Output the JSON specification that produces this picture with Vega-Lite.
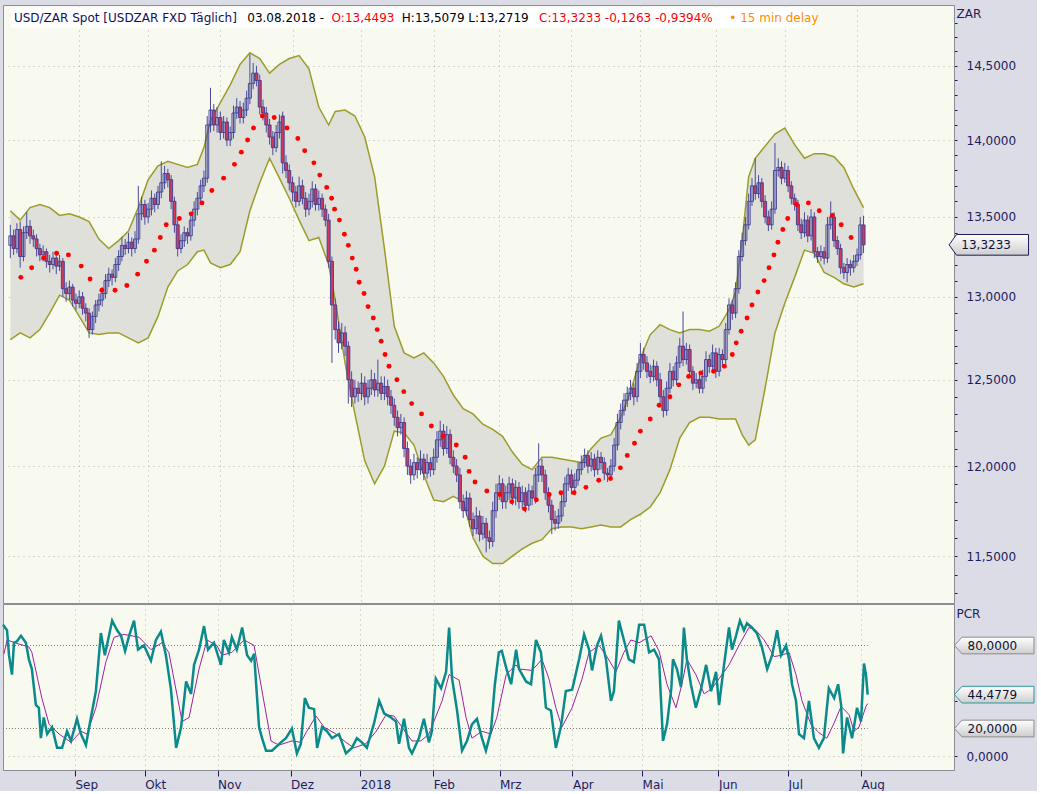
{
  "$schema": "https://vega.github.io/schema/vega-lite/v6.json",
  "background": "#dcdce6",
  "padding": {"left": -3, "top": 4, "right": 0, "bottom": 0},
  "spacing": -2,
  "config": {
    "view": {"fill": "#f8faf0", "stroke": "#8c8c96", "strokeWidth": 1},
    "font": "DejaVu Sans",
    "axis": {
      "labelFont": "DejaVu Sans", "labelFontSize": 12, "labelColor": "#1c1c5c",
      "tickColor": "#1c1c5c", "domainColor": "#8c8c96",
      "gridColor": "#b4b4b4", "gridDash": [1, 4],
      "titleFont": "DejaVu Sans", "titleFontSize": 12, "titleFontWeight": "normal", "titleColor": "#1c1c5c"
    }
  },
  "datasets": {
    "ohlc": [
      {"t":2,"o":13.32,"h":13.45,"l":13.24,"c":13.38},{"t":3,"o":13.38,"h":13.42,"l":13.26,"c":13.30},{"t":4,"o":13.30,"h":13.46,"l":13.27,"c":13.42},{"t":5,"o":13.42,"h":13.47,"l":13.18,"c":13.25},
      {"t":6,"o":13.25,"h":13.44,"l":13.22,"c":13.40},{"t":7,"o":13.40,"h":13.53,"l":13.36,"c":13.44},{"t":8,"o":13.44,"h":13.48,"l":13.33,"c":13.38},{"t":9,"o":13.38,"h":13.42,"l":13.31,"c":13.36},
      {"t":10,"o":13.36,"h":13.39,"l":13.25,"c":13.30},{"t":11,"o":13.30,"h":13.33,"l":13.22,"c":13.26},{"t":12,"o":13.26,"h":13.32,"l":13.22,"c":13.28},{"t":13,"o":13.28,"h":13.30,"l":13.18,"c":13.22},
      {"t":14,"o":13.22,"h":13.26,"l":13.15,"c":13.20},{"t":15,"o":13.20,"h":13.28,"l":13.17,"c":13.24},{"t":16,"o":13.24,"h":13.27,"l":13.14,"c":13.19},{"t":17,"o":13.19,"h":13.26,"l":13.16,"c":13.22},
      {"t":18,"o":13.22,"h":13.24,"l":13.00,"c":13.05},{"t":19,"o":13.05,"h":13.09,"l":12.97,"c":13.02},{"t":20,"o":13.02,"h":13.10,"l":12.98,"c":13.06},{"t":21,"o":13.06,"h":13.08,"l":12.94,"c":12.98},
      {"t":22,"o":12.98,"h":13.02,"l":12.92,"c":12.96},{"t":23,"o":12.96,"h":13.04,"l":12.93,"c":13.00},{"t":24,"o":13.00,"h":13.03,"l":12.89,"c":12.93},{"t":25,"o":12.93,"h":12.96,"l":12.85,"c":12.90},
      {"t":26,"o":12.90,"h":12.93,"l":12.75,"c":12.80},{"t":27,"o":12.80,"h":12.91,"l":12.77,"c":12.88},{"t":28,"o":12.88,"h":12.98,"l":12.84,"c":12.95},{"t":29,"o":12.95,"h":13.02,"l":12.91,"c":12.98},
      {"t":30,"o":12.98,"h":13.06,"l":12.94,"c":13.02},{"t":31,"o":13.02,"h":13.14,"l":12.99,"c":13.10},{"t":32,"o":13.10,"h":13.18,"l":13.06,"c":13.14},{"t":33,"o":13.14,"h":13.17,"l":13.07,"c":13.12},
      {"t":34,"o":13.12,"h":13.24,"l":13.09,"c":13.20},{"t":35,"o":13.20,"h":13.29,"l":13.16,"c":13.25},{"t":36,"o":13.25,"h":13.37,"l":13.22,"c":13.32},{"t":37,"o":13.32,"h":13.36,"l":13.26,"c":13.30},
      {"t":38,"o":13.30,"h":13.40,"l":13.27,"c":13.34},{"t":39,"o":13.34,"h":13.37,"l":13.25,"c":13.30},{"t":40,"o":13.30,"h":13.41,"l":13.27,"c":13.36},{"t":41,"o":13.36,"h":13.70,"l":13.33,"c":13.52},
      {"t":42,"o":13.52,"h":13.63,"l":13.48,"c":13.58},{"t":43,"o":13.58,"h":13.61,"l":13.45,"c":13.50},{"t":44,"o":13.50,"h":13.59,"l":13.46,"c":13.55},{"t":45,"o":13.55,"h":13.67,"l":13.51,"c":13.62},
      {"t":46,"o":13.62,"h":13.65,"l":13.53,"c":13.58},{"t":47,"o":13.58,"h":13.70,"l":13.55,"c":13.66},{"t":48,"o":13.66,"h":13.86,"l":13.62,"c":13.72},{"t":49,"o":13.72,"h":13.83,"l":13.68,"c":13.78},
      {"t":50,"o":13.78,"h":13.81,"l":13.69,"c":13.74},{"t":51,"o":13.74,"h":13.77,"l":13.55,"c":13.60},{"t":52,"o":13.60,"h":13.63,"l":13.40,"c":13.45},{"t":53,"o":13.45,"h":13.48,"l":13.25,"c":13.30},
      {"t":54,"o":13.30,"h":13.39,"l":13.27,"c":13.35},{"t":55,"o":13.35,"h":13.44,"l":13.31,"c":13.40},{"t":56,"o":13.40,"h":13.43,"l":13.33,"c":13.38},{"t":57,"o":13.38,"h":13.52,"l":13.35,"c":13.48},
      {"t":58,"o":13.48,"h":13.60,"l":13.44,"c":13.55},{"t":59,"o":13.55,"h":13.66,"l":13.51,"c":13.62},{"t":60,"o":13.62,"h":13.74,"l":13.58,"c":13.70},{"t":61,"o":13.70,"h":13.80,"l":13.66,"c":13.75},
      {"t":62,"o":13.75,"h":14.16,"l":13.72,"c":14.10},{"t":63,"o":14.10,"h":14.35,"l":14.05,"c":14.20},{"t":64,"o":14.20,"h":14.24,"l":14.06,"c":14.10},{"t":65,"o":14.10,"h":14.22,"l":14.05,"c":14.15},
      {"t":66,"o":14.15,"h":14.19,"l":14.00,"c":14.05},{"t":67,"o":14.05,"h":14.16,"l":14.01,"c":14.12},{"t":68,"o":14.12,"h":14.15,"l":13.96,"c":14.00},{"t":69,"o":14.00,"h":14.09,"l":13.96,"c":14.05},
      {"t":70,"o":14.05,"h":14.23,"l":14.01,"c":14.18},{"t":71,"o":14.18,"h":14.28,"l":14.14,"c":14.22},{"t":72,"o":14.22,"h":14.26,"l":14.11,"c":14.15},{"t":73,"o":14.15,"h":14.25,"l":14.11,"c":14.20},
      {"t":74,"o":14.20,"h":14.33,"l":14.16,"c":14.28},{"t":75,"o":14.28,"h":14.58,"l":14.24,"c":14.38},{"t":76,"o":14.38,"h":14.52,"l":14.34,"c":14.45},{"t":77,"o":14.45,"h":14.50,"l":14.36,"c":14.40},
      {"t":78,"o":14.40,"h":14.44,"l":14.17,"c":14.22},{"t":79,"o":14.22,"h":14.27,"l":14.13,"c":14.18},{"t":80,"o":14.18,"h":14.22,"l":14.05,"c":14.10},{"t":81,"o":14.10,"h":14.14,"l":13.97,"c":14.02},
      {"t":82,"o":14.02,"h":14.06,"l":13.90,"c":13.95},{"t":83,"o":13.95,"h":14.10,"l":13.92,"c":14.05},{"t":84,"o":14.05,"h":14.17,"l":14.01,"c":14.12},{"t":85,"o":14.16,"h":14.19,"l":13.78,"c":13.85},
      {"t":86,"o":13.85,"h":13.90,"l":13.75,"c":13.80},{"t":87,"o":13.80,"h":13.84,"l":13.67,"c":13.72},{"t":88,"o":13.72,"h":13.76,"l":13.60,"c":13.66},{"t":89,"o":13.66,"h":13.70,"l":13.56,"c":13.60},
      {"t":90,"o":13.60,"h":13.76,"l":13.57,"c":13.70},{"t":91,"o":13.70,"h":13.74,"l":13.58,"c":13.62},{"t":92,"o":13.62,"h":13.66,"l":13.50,"c":13.55},{"t":93,"o":13.55,"h":13.65,"l":13.51,"c":13.60},
      {"t":94,"o":13.60,"h":13.73,"l":13.56,"c":13.68},{"t":95,"o":13.68,"h":13.71,"l":13.54,"c":13.58},{"t":96,"o":13.58,"h":13.67,"l":13.54,"c":13.62},{"t":97,"o":13.62,"h":13.65,"l":13.50,"c":13.55},
      {"t":98,"o":13.55,"h":13.58,"l":13.44,"c":13.48},{"t":99,"o":13.48,"h":13.52,"l":13.18,"c":13.22},{"t":100,"o":13.22,"h":13.25,"l":12.60,"c":12.95},{"t":101,"o":12.95,"h":12.99,"l":12.74,"c":12.80},
      {"t":102,"o":12.80,"h":12.85,"l":12.66,"c":12.72},{"t":103,"o":12.72,"h":12.84,"l":12.68,"c":12.78},{"t":104,"o":12.78,"h":12.82,"l":12.64,"c":12.70},{"t":105,"o":12.70,"h":12.73,"l":12.36,"c":12.50},
      {"t":106,"o":12.50,"h":12.55,"l":12.34,"c":12.40},{"t":107,"o":12.40,"h":12.50,"l":12.36,"c":12.45},{"t":108,"o":12.45,"h":12.49,"l":12.37,"c":12.42},{"t":109,"o":12.42,"h":12.54,"l":12.38,"c":12.48},
      {"t":110,"o":12.48,"h":12.52,"l":12.35,"c":12.40},{"t":111,"o":12.40,"h":12.50,"l":12.36,"c":12.45},{"t":112,"o":12.45,"h":12.56,"l":12.41,"c":12.50},{"t":113,"o":12.50,"h":12.54,"l":12.40,"c":12.44},
      {"t":114,"o":12.44,"h":12.62,"l":12.40,"c":12.48},{"t":115,"o":12.48,"h":12.52,"l":12.38,"c":12.42},{"t":116,"o":12.42,"h":12.52,"l":12.38,"c":12.46},{"t":117,"o":12.46,"h":12.50,"l":12.35,"c":12.40},
      {"t":118,"o":12.40,"h":12.44,"l":12.30,"c":12.35},{"t":119,"o":12.35,"h":12.39,"l":12.23,"c":12.28},{"t":120,"o":12.28,"h":12.32,"l":12.17,"c":12.22},{"t":121,"o":12.22,"h":12.30,"l":12.18,"c":12.25},
      {"t":122,"o":12.25,"h":12.28,"l":12.05,"c":12.10},{"t":123,"o":12.10,"h":12.14,"l":11.95,"c":12.00},{"t":124,"o":12.00,"h":12.04,"l":11.90,"c":11.95},{"t":125,"o":11.95,"h":12.07,"l":11.92,"c":12.02},
      {"t":126,"o":12.02,"h":12.05,"l":11.93,"c":11.98},{"t":127,"o":11.98,"h":12.09,"l":11.95,"c":12.04},{"t":128,"o":12.04,"h":12.07,"l":11.92,"c":11.96},{"t":129,"o":11.96,"h":12.07,"l":11.93,"c":12.02},
      {"t":130,"o":12.02,"h":12.05,"l":11.94,"c":11.98},{"t":131,"o":11.98,"h":12.10,"l":11.95,"c":12.05},{"t":132,"o":12.05,"h":12.20,"l":12.02,"c":12.15},{"t":133,"o":12.15,"h":12.26,"l":12.11,"c":12.20},
      {"t":134,"o":12.20,"h":12.24,"l":12.06,"c":12.10},{"t":135,"o":12.10,"h":12.23,"l":12.07,"c":12.18},{"t":136,"o":12.18,"h":12.21,"l":12.01,"c":12.05},{"t":137,"o":12.05,"h":12.09,"l":11.96,"c":12.00},
      {"t":138,"o":12.00,"h":12.04,"l":11.91,"c":11.95},{"t":139,"o":11.95,"h":11.99,"l":11.76,"c":11.80},{"t":140,"o":11.80,"h":11.84,"l":11.71,"c":11.75},{"t":141,"o":11.75,"h":11.86,"l":11.72,"c":11.82},
      {"t":142,"o":11.82,"h":11.85,"l":11.66,"c":11.70},{"t":143,"o":11.70,"h":11.74,"l":11.61,"c":11.65},{"t":144,"o":11.65,"h":11.77,"l":11.62,"c":11.72},{"t":145,"o":11.72,"h":11.75,"l":11.58,"c":11.62},
      {"t":146,"o":11.62,"h":11.72,"l":11.59,"c":11.68},{"t":147,"o":11.68,"h":11.71,"l":11.52,"c":11.60},{"t":148,"o":11.60,"h":11.64,"l":11.54,"c":11.58},{"t":149,"o":11.58,"h":11.80,"l":11.55,"c":11.75},
      {"t":150,"o":11.75,"h":11.90,"l":11.71,"c":11.85},{"t":151,"o":11.85,"h":11.95,"l":11.81,"c":11.90},{"t":152,"o":11.90,"h":11.93,"l":11.76,"c":11.80},{"t":153,"o":11.80,"h":11.89,"l":11.76,"c":11.85},
      {"t":154,"o":11.85,"h":11.94,"l":11.81,"c":11.90},{"t":155,"o":11.90,"h":11.93,"l":11.78,"c":11.82},{"t":156,"o":11.82,"h":11.92,"l":11.78,"c":11.88},{"t":157,"o":11.88,"h":11.91,"l":11.76,"c":11.80},
      {"t":158,"o":11.80,"h":11.89,"l":11.76,"c":11.85},{"t":159,"o":11.85,"h":11.88,"l":11.74,"c":11.78},{"t":160,"o":11.78,"h":11.90,"l":11.75,"c":11.86},{"t":161,"o":11.86,"h":11.89,"l":11.78,"c":11.82},
      {"t":162,"o":11.82,"h":11.99,"l":11.79,"c":11.95},{"t":163,"o":11.95,"h":12.13,"l":11.91,"c":12.00},{"t":164,"o":12.00,"h":12.04,"l":11.91,"c":11.95},{"t":165,"o":11.95,"h":11.98,"l":11.81,"c":11.85},
      {"t":166,"o":11.85,"h":11.88,"l":11.74,"c":11.78},{"t":167,"o":11.78,"h":11.81,"l":11.62,"c":11.70},{"t":168,"o":11.70,"h":11.75,"l":11.64,"c":11.68},{"t":169,"o":11.68,"h":11.76,"l":11.65,"c":11.72},
      {"t":170,"o":11.72,"h":11.84,"l":11.69,"c":11.80},{"t":171,"o":11.80,"h":11.94,"l":11.77,"c":11.90},{"t":172,"o":11.90,"h":11.99,"l":11.86,"c":11.95},{"t":173,"o":11.95,"h":11.98,"l":11.84,"c":11.88},
      {"t":174,"o":11.88,"h":11.96,"l":11.85,"c":11.92},{"t":175,"o":11.92,"h":12.02,"l":11.89,"c":11.98},{"t":176,"o":11.98,"h":12.06,"l":11.95,"c":12.02},{"t":177,"o":12.02,"h":12.10,"l":11.99,"c":12.06},
      {"t":178,"o":12.06,"h":12.09,"l":11.96,"c":12.00},{"t":179,"o":12.00,"h":12.08,"l":11.97,"c":12.04},{"t":180,"o":12.04,"h":12.07,"l":11.94,"c":11.98},{"t":181,"o":11.98,"h":12.09,"l":11.95,"c":12.05},
      {"t":182,"o":12.05,"h":12.08,"l":11.98,"c":12.02},{"t":183,"o":12.02,"h":12.05,"l":11.92,"c":11.96},{"t":184,"o":11.96,"h":11.99,"l":11.91,"c":11.95},{"t":185,"o":11.95,"h":12.04,"l":11.92,"c":12.00},
      {"t":186,"o":12.00,"h":12.16,"l":11.97,"c":12.12},{"t":187,"o":12.12,"h":12.30,"l":12.09,"c":12.25},{"t":188,"o":12.25,"h":12.36,"l":12.21,"c":12.32},{"t":189,"o":12.32,"h":12.42,"l":12.29,"c":12.38},
      {"t":190,"o":12.38,"h":12.46,"l":12.34,"c":12.42},{"t":191,"o":12.42,"h":12.50,"l":12.38,"c":12.45},{"t":192,"o":12.45,"h":12.48,"l":12.35,"c":12.40},{"t":193,"o":12.40,"h":12.60,"l":12.37,"c":12.55},
      {"t":194,"o":12.55,"h":12.72,"l":12.51,"c":12.65},{"t":195,"o":12.65,"h":12.69,"l":12.56,"c":12.60},{"t":196,"o":12.60,"h":12.64,"l":12.51,"c":12.55},{"t":197,"o":12.55,"h":12.59,"l":12.48,"c":12.52},
      {"t":198,"o":12.52,"h":12.62,"l":12.49,"c":12.58},{"t":199,"o":12.58,"h":12.61,"l":12.46,"c":12.50},{"t":200,"o":12.50,"h":12.54,"l":12.35,"c":12.40},{"t":201,"o":12.40,"h":12.44,"l":12.28,"c":12.32},
      {"t":202,"o":12.32,"h":12.49,"l":12.29,"c":12.45},{"t":203,"o":12.45,"h":12.60,"l":12.42,"c":12.55},{"t":204,"o":12.55,"h":12.58,"l":12.46,"c":12.50},{"t":205,"o":12.50,"h":12.64,"l":12.47,"c":12.60},
      {"t":206,"o":12.60,"h":12.75,"l":12.57,"c":12.70},{"t":207,"o":12.70,"h":12.91,"l":12.58,"c":12.62},{"t":208,"o":12.62,"h":12.72,"l":12.59,"c":12.68},{"t":209,"o":12.68,"h":12.71,"l":12.51,"c":12.55},
      {"t":210,"o":12.55,"h":12.58,"l":12.44,"c":12.48},{"t":211,"o":12.48,"h":12.54,"l":12.45,"c":12.50},{"t":212,"o":12.50,"h":12.53,"l":12.42,"c":12.45},{"t":213,"o":12.45,"h":12.56,"l":12.42,"c":12.52},
      {"t":214,"o":12.52,"h":12.67,"l":12.49,"c":12.62},{"t":215,"o":12.62,"h":12.65,"l":12.54,"c":12.58},{"t":216,"o":12.58,"h":12.71,"l":12.55,"c":12.66},{"t":217,"o":12.66,"h":12.69,"l":12.51,"c":12.55},
      {"t":218,"o":12.55,"h":12.69,"l":12.52,"c":12.65},{"t":219,"o":12.65,"h":12.68,"l":12.58,"c":12.62},{"t":220,"o":12.62,"h":12.84,"l":12.59,"c":12.80},{"t":221,"o":12.80,"h":12.99,"l":12.77,"c":12.95},
      {"t":222,"o":12.95,"h":12.98,"l":12.86,"c":12.90},{"t":223,"o":12.90,"h":13.09,"l":12.87,"c":13.05},{"t":224,"o":13.05,"h":13.29,"l":13.02,"c":13.25},{"t":225,"o":13.25,"h":13.40,"l":13.22,"c":13.35},
      {"t":226,"o":13.35,"h":13.50,"l":13.32,"c":13.45},{"t":227,"o":13.45,"h":13.65,"l":13.42,"c":13.60},{"t":228,"o":13.60,"h":13.75,"l":13.57,"c":13.70},{"t":229,"o":13.70,"h":13.88,"l":13.61,"c":13.65},
      {"t":230,"o":13.65,"h":13.77,"l":13.62,"c":13.72},{"t":231,"o":13.72,"h":13.75,"l":13.56,"c":13.60},{"t":232,"o":13.60,"h":13.64,"l":13.46,"c":13.50},{"t":233,"o":13.50,"h":13.54,"l":13.41,"c":13.45},
      {"t":234,"o":13.45,"h":13.60,"l":13.42,"c":13.55},{"t":235,"o":13.55,"h":13.98,"l":13.52,"c":13.80},{"t":236,"o":13.80,"h":13.88,"l":13.76,"c":13.82},{"t":237,"o":13.82,"h":13.86,"l":13.71,"c":13.75},
      {"t":238,"o":13.75,"h":13.85,"l":13.72,"c":13.80},{"t":239,"o":13.80,"h":13.83,"l":13.66,"c":13.70},{"t":240,"o":13.70,"h":13.73,"l":13.58,"c":13.62},{"t":241,"o":13.62,"h":13.65,"l":13.54,"c":13.58},
      {"t":242,"o":13.58,"h":13.61,"l":13.41,"c":13.45},{"t":243,"o":13.45,"h":13.49,"l":13.36,"c":13.40},{"t":244,"o":13.40,"h":13.53,"l":13.37,"c":13.48},{"t":245,"o":13.48,"h":13.51,"l":13.34,"c":13.38},
      {"t":246,"o":13.38,"h":13.55,"l":13.35,"c":13.50},{"t":247,"o":13.50,"h":13.53,"l":13.24,"c":13.28},{"t":248,"o":13.28,"h":13.31,"l":13.21,"c":13.25},{"t":249,"o":13.25,"h":13.32,"l":13.22,"c":13.28},
      {"t":250,"o":13.28,"h":13.31,"l":13.20,"c":13.24},{"t":251,"o":13.24,"h":13.50,"l":13.21,"c":13.45},{"t":252,"o":13.45,"h":13.60,"l":13.42,"c":13.50},{"t":253,"o":13.50,"h":13.53,"l":13.31,"c":13.35},
      {"t":254,"o":13.35,"h":13.38,"l":13.26,"c":13.30},{"t":255,"o":13.30,"h":13.33,"l":13.14,"c":13.18},{"t":256,"o":13.18,"h":13.21,"l":13.11,"c":13.15},{"t":257,"o":13.15,"h":13.24,"l":13.09,"c":13.20},
      {"t":258,"o":13.20,"h":13.23,"l":13.13,"c":13.18},{"t":259,"o":13.18,"h":13.26,"l":13.15,"c":13.22},{"t":260,"o":13.22,"h":13.30,"l":13.19,"c":13.26},{"t":261,"o":13.26,"h":13.50,"l":13.23,"c":13.4496},
      {"t":262,"o":13.4493,"h":13.5079,"l":13.2719,"c":13.3233}
    ],
    "bands": [
      {"t":2,"u":13.54,"b":12.74},{"t":5,"u":13.48,"b":12.78},{"t":8,"u":13.56,"b":12.75},{"t":11,"u":13.58,"b":12.80},{"t":14,"u":13.56,"b":12.90},
      {"t":17,"u":13.51,"b":13.01},{"t":20,"u":13.52,"b":12.98},{"t":23,"u":13.50,"b":12.88},{"t":26,"u":13.47,"b":12.78},{"t":29,"u":13.36,"b":12.77},
      {"t":32,"u":13.30,"b":12.78},{"t":35,"u":13.35,"b":12.78},{"t":38,"u":13.41,"b":12.75},{"t":41,"u":13.56,"b":12.72},{"t":44,"u":13.74,"b":12.75},
      {"t":47,"u":13.83,"b":12.88},{"t":50,"u":13.86,"b":13.06},{"t":53,"u":13.84,"b":13.16},{"t":56,"u":13.82,"b":13.20},{"t":59,"u":13.84,"b":13.28},
      {"t":61,"u":13.95,"b":13.29},{"t":63,"u":14.13,"b":13.21},{"t":66,"u":14.25,"b":13.18},{"t":69,"u":14.37,"b":13.20},{"t":72,"u":14.51,"b":13.28},
      {"t":75,"u":14.59,"b":13.54},{"t":78,"u":14.55,"b":13.72},{"t":81,"u":14.45,"b":13.88},{"t":84,"u":14.51,"b":13.75},{"t":87,"u":14.55,"b":13.62},
      {"t":90,"u":14.57,"b":13.48},{"t":93,"u":14.48,"b":13.35},{"t":96,"u":14.22,"b":13.37},{"t":99,"u":14.10,"b":13.20},{"t":101,"u":14.19,"b":12.98},
      {"t":104,"u":14.20,"b":12.60},{"t":107,"u":14.16,"b":12.30},{"t":110,"u":14.02,"b":12.03},{"t":113,"u":13.76,"b":11.90},{"t":116,"u":13.30,"b":12.00},
      {"t":119,"u":12.82,"b":12.20},{"t":122,"u":12.66,"b":12.19},{"t":125,"u":12.63,"b":12.12},{"t":128,"u":12.66,"b":11.95},{"t":131,"u":12.60,"b":11.81},
      {"t":134,"u":12.52,"b":11.80},{"t":137,"u":12.41,"b":11.83},{"t":140,"u":12.33,"b":11.80},{"t":143,"u":12.30,"b":11.60},{"t":146,"u":12.24,"b":11.50},
      {"t":149,"u":12.21,"b":11.46},{"t":152,"u":12.17,"b":11.46},{"t":155,"u":12.08,"b":11.50},{"t":158,"u":12.01,"b":11.54},{"t":161,"u":11.98,"b":11.57},
      {"t":164,"u":12.05,"b":11.59},{"t":167,"u":12.05,"b":11.65},{"t":170,"u":12.04,"b":11.66},{"t":173,"u":12.03,"b":11.66},{"t":176,"u":12.02,"b":11.65},
      {"t":179,"u":12.10,"b":11.66},{"t":182,"u":12.16,"b":11.67},{"t":185,"u":12.18,"b":11.66},{"t":188,"u":12.28,"b":11.66},{"t":191,"u":12.43,"b":11.70},
      {"t":194,"u":12.63,"b":11.73},{"t":197,"u":12.77,"b":11.77},{"t":200,"u":12.83,"b":11.85},{"t":203,"u":12.80,"b":11.98},{"t":206,"u":12.78,"b":12.16},
      {"t":209,"u":12.80,"b":12.25},{"t":212,"u":12.80,"b":12.28},{"t":215,"u":12.79,"b":12.28},{"t":218,"u":12.82,"b":12.27},{"t":221,"u":12.92,"b":12.27},
      {"t":223,"u":13.03,"b":12.27},{"t":225,"u":13.35,"b":12.18},{"t":227,"u":13.76,"b":12.12},{"t":229,"u":13.88,"b":12.15},{"t":232,"u":13.96,"b":12.45},
      {"t":235,"u":14.04,"b":12.78},{"t":238,"u":14.08,"b":12.96},{"t":241,"u":13.97,"b":13.12},{"t":244,"u":13.88,"b":13.29},{"t":247,"u":13.91,"b":13.27},
      {"t":250,"u":13.91,"b":13.15},{"t":253,"u":13.89,"b":13.12},{"t":256,"u":13.82,"b":13.08},{"t":259,"u":13.68,"b":13.06},{"t":262,"u":13.56,"b":13.08}
    ],
    "sar": [
      {"t":5.2,"s":13.12},{"t":8.5,"s":13.18},{"t":12.1,"s":13.24},{"t":16.1,"s":13.27},{"t":19.7,"s":13.26},{"t":23.6,"s":13.19},{"t":26.3,"s":13.11},
      {"t":29.9,"s":13.04},{"t":33.9,"s":13.04},{"t":37.5,"s":13.07},{"t":40.8,"s":13.14},{"t":43.5,"s":13.22},{"t":45.9,"s":13.29},{"t":47.7,"s":13.37},
      {"t":49.5,"s":13.45},{"t":53.5,"s":13.49},{"t":57.1,"s":13.52},{"t":60.4,"s":13.59},{"t":63.4,"s":13.67},{"t":67.0,"s":13.75},{"t":70.3,"s":13.84},
      {"t":72.4,"s":13.92},{"t":74.3,"s":14.0},{"t":76.1,"s":14.08},{"t":78.8,"s":14.16},{"t":82.4,"s":14.15},{"t":86.3,"s":14.08},{"t":89.6,"s":14.01},
      {"t":91.7,"s":13.93},{"t":94.5,"s":13.85},{"t":96.3,"s":13.77},{"t":98.4,"s":13.69},{"t":99.9,"s":13.62},{"t":100.8,"s":13.55},{"t":102.3,"s":13.48},
      {"t":103.8,"s":13.39},{"t":105.0,"s":13.32},{"t":106.2,"s":13.24},{"t":107.4,"s":13.17},{"t":108.3,"s":13.09},{"t":109.8,"s":13.02},{"t":111.0,"s":12.94},
      {"t":112.6,"s":12.87},{"t":113.8,"s":12.80},{"t":115.0,"s":12.73},{"t":116.2,"s":12.65},{"t":117.4,"s":12.58},{"t":119.8,"s":12.50},{"t":121.9,"s":12.43},
      {"t":124.3,"s":12.36},{"t":127.3,"s":12.30},{"t":130.3,"s":12.23},{"t":133.9,"s":12.17},{"t":137.9,"s":12.12},{"t":140.6,"s":12.05},{"t":141.8,"s":11.97},
      {"t":143.6,"s":11.91},{"t":147.2,"s":11.86},{"t":151.1,"s":11.84},{"t":154.8,"s":11.80},{"t":158.7,"s":11.76},{"t":162.3,"s":11.81},{"t":166.2,"s":11.84},
      {"t":169.8,"s":11.85},{"t":173.8,"s":11.85},{"t":177.4,"s":11.88},{"t":181.3,"s":11.92},{"t":184.9,"s":11.93},{"t":187.9,"s":11.99},{"t":190.0,"s":12.06},
      {"t":192.2,"s":12.13},{"t":194.0,"s":12.20},{"t":197.0,"s":12.27},{"t":199.7,"s":12.35},{"t":203.0,"s":12.40},{"t":205.7,"s":12.47},{"t":208.7,"s":12.52},
      {"t":212.4,"s":12.54},{"t":216.3,"s":12.55},{"t":219.6,"s":12.58},{"t":222.0,"s":12.65},{"t":223.2,"s":12.72},{"t":224.7,"s":12.79},{"t":226.5,"s":12.87},
      {"t":228.0,"s":12.95},{"t":229.8,"s":13.03},{"t":231.7,"s":13.10},{"t":233.2,"s":13.18},{"t":234.7,"s":13.26},{"t":235.9,"s":13.34},{"t":237.4,"s":13.42},
      {"t":238.9,"s":13.49},{"t":241.6,"s":13.58},{"t":245.2,"s":13.59},{"t":248.5,"s":13.54},{"t":252.5,"s":13.51},{"t":255.2,"s":13.45},{"t":258.2,"s":13.37}
    ],
    "pcr": [
      {"t":1.3,"p":95},{"t":2.5,"p":91},{"t":3.1,"p":73},{"t":4.0,"p":59},{"t":4.6,"p":82},{"t":5.5,"p":83},{"t":6.7,"p":87},{"t":8.2,"p":82},{"t":9.1,"p":70},{"t":10.0,"p":63},
      {"t":11.2,"p":37},{"t":12.1,"p":35},{"t":12.7,"p":13},{"t":13.6,"p":28},{"t":14.6,"p":16},{"t":16.1,"p":21},{"t":17.6,"p":6},{"t":19.1,"p":6},{"t":20.6,"p":18},{"t":21.8,"p":11},
      {"t":23.6,"p":27},{"t":24.8,"p":16},{"t":26.3,"p":8},{"t":27.8,"p":28},{"t":29.3,"p":47},{"t":30.8,"p":89},{"t":32.0,"p":73},{"t":34.2,"p":98},{"t":35.7,"p":91},{"t":36.9,"p":87},
      {"t":38.1,"p":76},{"t":39.3,"p":87},{"t":40.8,"p":98},{"t":42.0,"p":77},{"t":43.8,"p":80},{"t":45.9,"p":69},{"t":47.4,"p":84},{"t":48.9,"p":90},{"t":50.4,"p":73},{"t":51.9,"p":49},
      {"t":53.5,"p":6},{"t":55.0,"p":21},{"t":56.5,"p":54},{"t":58.0,"p":45},{"t":58.9,"p":66},{"t":60.4,"p":77},{"t":61.9,"p":94},{"t":63.1,"p":77},{"t":64.9,"p":82},{"t":67.0,"p":66},
      {"t":67.9,"p":84},{"t":69.4,"p":75},{"t":70.3,"p":86},{"t":71.8,"p":77},{"t":73.4,"p":93},{"t":74.9,"p":73},{"t":76.1,"p":69},{"t":77.0,"p":74},{"t":78.5,"p":21},{"t":79.4,"p":13},
      {"t":80.6,"p":4},{"t":82.4,"p":4},{"t":85.1,"p":10},{"t":86.6,"p":13},{"t":88.4,"p":20},{"t":89.9,"p":2},{"t":91.1,"p":9},{"t":92.3,"p":42},{"t":93.5,"p":35},{"t":95.1,"p":34},
      {"t":96.0,"p":6},{"t":97.5,"p":21},{"t":99.0,"p":18},{"t":100.5,"p":13},{"t":102.6,"p":16},{"t":104.7,"p":2},{"t":106.5,"p":6},{"t":108.0,"p":13},{"t":109.5,"p":10},{"t":111.0,"p":6},
      {"t":113.2,"p":24},{"t":114.7,"p":40},{"t":116.2,"p":31},{"t":118.3,"p":28},{"t":119.8,"p":25},{"t":120.7,"p":9},{"t":122.2,"p":27},{"t":123.7,"p":6},{"t":124.6,"p":2},{"t":126.7,"p":13},
      {"t":128.2,"p":27},{"t":129.7,"p":10},{"t":130.6,"p":18},{"t":131.8,"p":56},{"t":133.4,"p":49},{"t":134.9,"p":61},{"t":135.8,"p":93},{"t":136.7,"p":56},{"t":138.2,"p":33},{"t":139.7,"p":4},
      {"t":141.2,"p":11},{"t":142.7,"p":23},{"t":144.2,"p":27},{"t":145.7,"p":13},{"t":146.9,"p":4},{"t":148.4,"p":18},{"t":149.6,"p":52},{"t":150.8,"p":75},{"t":151.7,"p":76},{"t":153.0,"p":64},
      {"t":154.5,"p":52},{"t":156.0,"p":77},{"t":156.9,"p":63},{"t":159.0,"p":54},{"t":160.5,"p":52},{"t":162.0,"p":84},{"t":163.5,"p":75},{"t":165.0,"p":35},{"t":166.5,"p":33},{"t":168.0,"p":6},
      {"t":169.5,"p":21},{"t":171.0,"p":47},{"t":172.9,"p":48},{"t":175.0,"p":70},{"t":176.5,"p":88},{"t":178.0,"p":77},{"t":178.9,"p":62},{"t":180.4,"p":80},{"t":181.6,"p":87},{"t":183.1,"p":70},
      {"t":184.6,"p":40},{"t":185.5,"p":47},{"t":187.0,"p":98},{"t":188.5,"p":84},{"t":190.0,"p":70},{"t":191.5,"p":68},{"t":193.1,"p":95},{"t":194.6,"p":95},{"t":196.1,"p":75},{"t":197.6,"p":77},
      {"t":199.1,"p":70},{"t":200.3,"p":11},{"t":201.5,"p":23},{"t":202.8,"p":49},{"t":203.3,"p":70},{"t":204.5,"p":63},{"t":205.7,"p":50},{"t":206.6,"p":93},{"t":207.5,"p":70},{"t":208.7,"p":52},
      {"t":210.2,"p":35},{"t":211.8,"p":49},{"t":213.3,"p":66},{"t":214.8,"p":47},{"t":216.3,"p":61},{"t":217.2,"p":37},{"t":218.7,"p":66},{"t":220.2,"p":93},{"t":221.1,"p":77},{"t":222.3,"p":87},
      {"t":223.5,"p":98},{"t":224.7,"p":91},{"t":225.6,"p":96},{"t":227.1,"p":93},{"t":228.6,"p":89},{"t":230.1,"p":79},{"t":231.7,"p":63},{"t":233.2,"p":73},{"t":234.7,"p":91},{"t":235.9,"p":73},
      {"t":237.4,"p":80},{"t":238.3,"p":70},{"t":239.2,"p":52},{"t":240.4,"p":40},{"t":241.3,"p":16},{"t":242.8,"p":13},{"t":244.3,"p":40},{"t":245.8,"p":13},{"t":247.3,"p":6},{"t":248.8,"p":13},
      {"t":250.3,"p":49},{"t":251.9,"p":42},{"t":253.1,"p":52},{"t":254.0,"p":37},{"t":254.6,"p":2},{"t":255.8,"p":28},{"t":257.3,"p":13},{"t":258.8,"p":35},{"t":260.0,"p":25},{"t":260.9,"p":67},
      {"t":261.5,"p":59},{"t":262,"p":44.4779}
    ],
    "sig": [
      {"t":1.6,"g":74},{"t":2.5,"g":84},{"t":6.1,"g":81},{"t":9.1,"g":79},{"t":10.0,"g":75},{"t":13.0,"g":42},{"t":15.2,"g":23},{"t":18.2,"g":16},{"t":21.8,"g":10},{"t":24.8,"g":18},
      {"t":26.6,"g":16},{"t":29.3,"g":35},{"t":32.3,"g":68},{"t":34.8,"g":86},{"t":37.8,"g":88},{"t":42.3,"g":86},{"t":45.9,"g":77},{"t":49.2,"g":82},{"t":51.3,"g":75},{"t":55.3,"g":25},
      {"t":57.4,"g":28},{"t":60.4,"g":63},{"t":62.8,"g":84},{"t":65.8,"g":80},{"t":67.3,"g":73},{"t":70.3,"g":75},{"t":74.0,"g":84},{"t":77.0,"g":80},{"t":79.4,"g":47},{"t":82.1,"g":11},
      {"t":84.5,"g":8},{"t":88.4,"g":11},{"t":91.1,"g":10},{"t":92.9,"g":18},{"t":95.7,"g":29},{"t":98.1,"g":21},{"t":101.7,"g":16},{"t":104.7,"g":10},{"t":107.1,"g":6},{"t":110.7,"g":9},
      {"t":113.8,"g":18},{"t":116.8,"g":30},{"t":119.2,"g":29},{"t":121.6,"g":21},{"t":124.6,"g":11},{"t":127.3,"g":11},{"t":129.7,"g":16},{"t":133.7,"g":40},{"t":135.8,"g":59},{"t":138.8,"g":55},
      {"t":140.9,"g":28},{"t":142.7,"g":13},{"t":145.7,"g":18},{"t":148.4,"g":16},{"t":150.2,"g":28},{"t":153.0,"g":59},{"t":156.0,"g":66},{"t":156.9,"g":63},{"t":160.8,"g":62},{"t":163.8,"g":70},
      {"t":165.9,"g":56},{"t":168.0,"g":35},{"t":169.8,"g":21},{"t":172.9,"g":35},{"t":175.9,"g":56},{"t":178.0,"g":75},{"t":181.0,"g":80},{"t":183.1,"g":73},{"t":186.1,"g":61},{"t":188.5,"g":75},
      {"t":190.6,"g":84},{"t":193.1,"g":82},{"t":196.7,"g":87},{"t":199.1,"g":76},{"t":201.5,"g":52},{"t":204.2,"g":35},{"t":206.0,"g":52},{"t":207.5,"g":70},{"t":210.2,"g":59},{"t":212.7,"g":45},
      {"t":215.1,"g":49},{"t":217.2,"g":56},{"t":220.2,"g":66},{"t":223.2,"g":80},{"t":226.2,"g":93},{"t":228.3,"g":91},{"t":230.8,"g":84},{"t":233.8,"g":72},{"t":236.2,"g":73},{"t":238.3,"g":75},
      {"t":240.4,"g":59},{"t":242.2,"g":40},{"t":244.9,"g":23},{"t":247.3,"g":17},{"t":249.7,"g":13},{"t":251.9,"g":24},{"t":254.0,"g":36},{"t":256.4,"g":30},{"t":257.9,"g":18},{"t":259.4,"g":21},
      {"t":261.5,"g":36},{"t":262,"g":38}
    ],
    "lvl": [{"v":20},{"v":80}],
    "ltag": [{"v":80,"txt":"80,0000","k":"lvl"},{"v":20,"txt":"20,0000","k":"lvl"},{"v":44.4779,"txt":"44,4779","k":"last"}],
    "ptag": [{"v":13.3233,"txt":"13,3233"}]
  },
  "vconcat": [
    {
      "width": 951,
      "height": 598,
      "layer": [
        {
          "data": {"name": "bands"},
          "mark": {"type": "area", "color": "#dfe0da", "opacity": 1},
          "encoding": {
            "x": {"field": "t", "type": "quantitative",
              "scale": {"domain": [1.29, 288.04], "nice": false, "zero": false},
              "axis": {"values": [23,44,66,88,109,131,151,173,194,217,238,260], "labels": false, "ticks": false, "domain": false, "grid": true, "title": null}},
            "y": {"field": "u", "type": "quantitative",
              "scale": {"type": "log", "domain": [11.248, 14.923], "nice": false},
              "axis": {
                "orient": "right",
                "values": [11.3,11.4,11.5,11.6,11.7,11.8,11.9,12.0,12.1,12.2,12.3,12.4,12.5,12.6,12.7,12.8,12.9,13.0,13.1,13.2,13.3,13.4,13.5,13.6,13.7,13.8,13.9,14.0,14.1,14.2,14.3,14.4,14.5,14.6,14.7,14.8],
                "labelExpr": "abs(datum.value * 2 - round(datum.value * 2)) < 0.001 ? replace(format(datum.value, '.4f'), '.', ',') : ''",
                "labelOverlap": false,
                "tickSize": 3,
                "labelPadding": 9,
                "grid": true,
                "gridOpacity": {"condition": {"test": "abs(datum.value * 2 - round(datum.value * 2)) < 0.001", "value": 1}, "value": 0},
                "title": "ZAR", "titleAngle": 0, "titleAlign": "left", "titleBaseline": "top", "titleX": 2, "titleY": 3
              }},
            "y2": {"field": "b"}
          }
        },
        {
          "data": {"name": "bands"},
          "mark": {"type": "line", "color": "#9c9c2a", "strokeWidth": 1.5},
          "encoding": {"x": {"field": "t", "type": "quantitative"}, "y": {"field": "u", "type": "quantitative"}}
        },
        {
          "data": {"name": "bands"},
          "mark": {"type": "line", "color": "#9c9c2a", "strokeWidth": 1.5},
          "encoding": {"x": {"field": "t", "type": "quantitative"}, "y": {"field": "b", "type": "quantitative"}}
        },
        {
          "data": {"name": "ohlc"},
          "mark": {"type": "rule", "color": "#4a4a9c", "strokeWidth": 1},
          "encoding": {"x": {"field": "t", "type": "quantitative"}, "y": {"field": "l", "type": "quantitative"}, "y2": {"field": "h"}}
        },
        {
          "data": {"name": "ohlc"},
          "mark": {"type": "bar", "size": 3, "fill": "#cc3a5c", "stroke": "#3c3c92", "strokeWidth": 0.9},
          "encoding": {
            "x": {"field": "t", "type": "quantitative"},
            "y": {"field": "o", "type": "quantitative"},
            "y2": {"field": "c"},
            "fillOpacity": {"condition": {"test": "datum.c < datum.o", "value": 1}, "value": 0}
          }
        },
        {
          "data": {"name": "sar"},
          "mark": {"type": "circle", "color": "#ff0000", "size": 24, "opacity": 1},
          "encoding": {"x": {"field": "t", "type": "quantitative"}, "y": {"field": "s", "type": "quantitative"}}
        },
        {
          "data": {"values": [{}]},
          "mark": {"type": "rect", "color": "#ffffff"},
          "encoding": {"x": {"datum": 2.19}, "x2": {"datum": 246.4}, "y": {"datum": 14.903}, "y2": {"datum": 14.763}}
        },
        {
          "data": {"values": [{}]},
          "mark": {"type": "text", "align": "left", "baseline": "middle", "fontSize": 12, "color": "#10105a"},
          "encoding": {"x": {"datum": 3.1}, "y": {"datum": 14.83}, "text": {"value": "USD/ZAR Spot [USDZAR FXD Täglich]"}}
        },
        {
          "data": {"values": [{}]},
          "mark": {"type": "text", "align": "left", "baseline": "middle", "fontSize": 12, "color": "#000000"},
          "encoding": {"x": {"datum": 74.2}, "y": {"datum": 14.83}, "text": {"value": "03.08.2018 -"}}
        },
        {
          "data": {"values": [{}]},
          "mark": {"type": "text", "align": "left", "baseline": "middle", "fontSize": 12, "color": "#ff0000"},
          "encoding": {"x": {"datum": 99.9}, "y": {"datum": 14.83}, "text": {"value": "O:13,4493"}}
        },
        {
          "data": {"values": [{}]},
          "mark": {"type": "text", "align": "left", "baseline": "middle", "fontSize": 12, "color": "#000000"},
          "encoding": {"x": {"datum": 121.3}, "y": {"datum": 14.83}, "text": {"value": "H:13,5079 L:13,2719"}}
        },
        {
          "data": {"values": [{}]},
          "mark": {"type": "text", "align": "left", "baseline": "middle", "fontSize": 12, "color": "#ff0000"},
          "encoding": {"x": {"datum": 163.1}, "y": {"datum": 14.83}, "text": {"value": "C:13,3233 -0,1263 -0,9394%"}}
        },
        {
          "data": {"values": [{}]},
          "mark": {"type": "text", "align": "left", "baseline": "middle", "fontSize": 12, "color": "#ff8c00"},
          "encoding": {"x": {"datum": 221.1}, "y": {"datum": 14.83}, "text": {"value": "• 15 min delay"}}
        },
        {
          "data": {"name": "ptag"},
          "mark": {"type": "point", "shape": "M-3.84,0L-3.12,-1L3.84,-1L3.84,1L-3.12,1Z", "size": 428, "filled": true, "opacity": 1,
            "fill": {"gradient": "linear", "x1": 0, "y1": 0, "x2": 0, "y2": 1, "stops": [{"offset": 0, "color": "#ffffff"}, {"offset": 1, "color": "#cdcdcd"}]},
            "stroke": "#1c1c5c", "strokeWidth": 1},
          "encoding": {"x": {"datum": 300.17}, "y": {"field": "v", "type": "quantitative"}}
        },
        {
          "data": {"name": "ptag"},
          "mark": {"type": "text", "align": "center", "baseline": "middle", "fontSize": 12, "color": "#101040"},
          "encoding": {"x": {"datum": 299.35}, "y": {"field": "v", "type": "quantitative"}, "text": {"field": "txt"}}
        }
      ]
    },
    {
      "width": 951,
      "height": 166,
      "layer": [
        {
          "data": {"name": "lvl"},
          "mark": {"type": "rule", "color": "#7a7a7a", "strokeDash": [1, 2], "strokeWidth": 1},
          "encoding": {
            "x": {"datum": 1.29, "type": "quantitative",
              "scale": {"domain": [1.29, 288.04], "nice": false, "zero": false},
              "axis": {
                "values": [23,44,66,88,109,131,151,173,194,217,238,260],
                "labelExpr": "['Sep','Okt','Nov','Dez','2018','Feb','Mrz','Apr','Mai','Jun','Jul','Aug'][indexof([23,44,66,88,109,131,151,173,194,217,238,260], datum.value)]",
                "labelAlign": "left", "labelBaseline": "top", "labelPadding": 3, "tickSize": 6,
                "grid": true, "title": null, "labelOverlap": false
              }},
            "x2": {"datum": 262},
            "y": {"field": "v", "type": "quantitative",
              "scale": {"domain": [-10, 110], "nice": false, "zero": false},
              "axis": {
                "orient": "right",
                "values": [0,10,20,30,40,50,60,70,80,90,100],
                "labelExpr": "datum.value == 0 || datum.value == 50 ? replace(format(datum.value, '.4f'), '.', ',') : ''",
                "labelOverlap": false,
                "tickSize": 3,
                "labelPadding": 9,
                "grid": true,
                "gridOpacity": {"condition": {"test": "datum.value % 50 == 0", "value": 1}, "value": 0},
                "title": "PCR", "titleAngle": 0, "titleAlign": "left", "titleBaseline": "top", "titleX": 2, "titleY": 4
              }}
          }
        },
        {
          "data": {"name": "sig"},
          "mark": {"type": "line", "color": "#a020a0", "strokeWidth": 1},
          "encoding": {"x": {"field": "t", "type": "quantitative"}, "y": {"field": "g", "type": "quantitative"}}
        },
        {
          "data": {"name": "pcr"},
          "mark": {"type": "line", "color": "#0a8a8a", "strokeWidth": 2.5},
          "encoding": {"x": {"field": "t", "type": "quantitative"}, "y": {"field": "p", "type": "quantitative"}}
        },
        {
          "data": {"name": "ltag"},
          "mark": {"type": "point", "shape": "M-4.76,0L-3.86,-1L4.76,-1L4.76,1L-3.86,1Z", "size": 279, "filled": true, "opacity": 1, "strokeWidth": 1,
            "fill": {"gradient": "linear", "x1": 0, "y1": 0, "x2": 0, "y2": 1, "stops": [{"offset": 0, "color": "#ffffff"}, {"offset": 1, "color": "#cdcdcd"}]}},
          "encoding": {
            "x": {"datum": 300.17},
            "y": {"field": "v", "type": "quantitative"},
            "stroke": {"condition": {"test": "datum.k == 'last'", "value": "#2a9a9a"}, "value": "#8c8c8c"}
          }
        },
        {
          "data": {"name": "ltag"},
          "mark": {"type": "text", "align": "center", "baseline": "middle", "fontSize": 12, "color": "#101030"},
          "encoding": {"x": {"datum": 299.6}, "y": {"field": "v", "type": "quantitative"}, "text": {"field": "txt"}}
        }
      ]
    }
  ]
}
